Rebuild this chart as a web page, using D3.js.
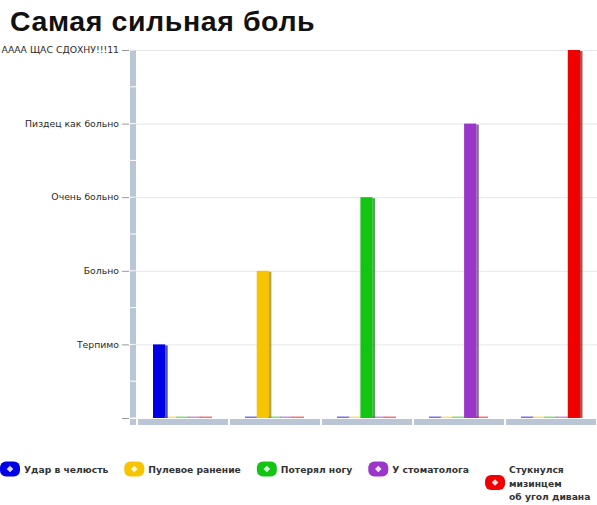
<!DOCTYPE html>
<html>
<head>
<meta charset="utf-8">
<script src="https://cdn.jsdelivr.net/npm/d3@7"></script>
<style>
  body { margin: 0; background: #fff; }
  text { font-family: "DejaVu Sans", Verdana, sans-serif; }
</style>
</head>
<body>
<script>
// pain levels on the y axis, bottom to top
let levels = ["", "Терпимо", "Больно", "Очень больно", "Пиздец как больно", "АААА ЩАС СДОХНУ!!!11"];
let groups = ["1", "2", "3", "4", "5"];
let series = ["Удар в челюсть", "Пулевое ранение", "Потерял ногу", "У стоматолога", "Стукнулся мизинцем об угол дивана"];
let seriesLines = [["Удар в челюсть"], ["Пулевое ранение"], ["Потерял ногу"], ["У стоматолога"], ["Стукнулся", "мизинцем", "об угол дивана"]];
let colors = ["#0000e4", "#f6c500", "#13c513", "#9a36c9", "#f00000"];
// values[group][series]
let values = [
  [1, 0, 0, 0, 0],
  [0, 2, 0, 0, 0],
  [0, 0, 3, 0, 0],
  [0, 0, 0, 4, 0],
  [0, 0, 0, 0, 5]
];

let width = 597, height = 505;
let margin = {top: 50, right: 0, bottom: 87, left: 137};

let svg = d3.select("body").append("svg")
  .attr("width", width)
  .attr("height", height);

svg.append("text")
  .attr("x", 10).attr("y", 31)
  .style("font-family", "'Liberation Sans', Arial, sans-serif")
  .style("font-weight", "bold")
  .style("font-size", "28.5px")
  .style("letter-spacing", "0.6px")
  .attr("fill", "#111")
  .text("Самая сильная боль");

let x = d3.scaleBand().domain(groups).range([margin.left, width - margin.right]);
let xs = d3.scaleBand().domain(series).range([16, 16 + 58.5]);
let y = d3.scaleLinear().domain([0, levels.length - 1]).range([height - margin.bottom, margin.top]);

// gridlines
svg.append("g").selectAll("line")
  .data(d3.range(1, levels.length))
  .join("line")
  .attr("x1", margin.left - 4).attr("x2", width)
  .attr("y1", d => y(d) + 0.5).attr("y2", d => y(d) + 0.5)
  .attr("stroke", "#e4e6ea");

// vertical axis bar, split at half steps
let axisX = 130;
svg.append("g").selectAll("rect")
  .data(d3.range(0, levels.length - 1, 0.5))
  .join("rect")
  .attr("x", axisX).attr("width", 6)
  .attr("y", d => y(d + 0.5) + 0.5)
  .attr("height", d => y(d) - y(d + 0.5) - 1)
  .attr("fill", "#bac6d6");
svg.append("rect")
  .attr("x", axisX).attr("width", 6)
  .attr("y", y(0) + 1).attr("height", 6)
  .attr("fill", "#bac6d6");

// ticks and labels
let ticks = svg.append("g");
ticks.selectAll("line")
  .data(d3.range(levels.length))
  .join("line")
  .attr("x1", 122).attr("x2", 129)
  .attr("y1", d => y(d) + 0.5).attr("y2", d => y(d) + 0.5)
  .attr("stroke", "#999");
ticks.selectAll("text")
  .data(levels)
  .join("text")
  .attr("x", 119)
  .attr("y", (d, i) => y(i))
  .attr("dy", "0.35em")
  .attr("text-anchor", "end")
  .style("font-size", "9.3px")
  .attr("fill", "#2a2a2a")
  .text(d => d);

// base segments under each group
svg.append("g").selectAll("rect")
  .data(groups)
  .join("rect")
  .attr("x", d => x(d) + 1)
  .attr("width", x.bandwidth() - 2)
  .attr("y", y(0) + 1)
  .attr("height", 6)
  .attr("fill", "#bac6d6");

// bars
let g = svg.append("g").selectAll("g")
  .data(values)
  .join("g")
  .attr("transform", (d, i) => "translate(" + x(groups[i]) + ",0)");

g.selectAll("rect.bar")
  .data(d => d.map((v, j) => ({v: v, s: series[j], c: colors[j]})))
  .join("rect")
  .attr("class", "bar")
  .attr("x", d => xs(d.s))
  .attr("width", xs.bandwidth() + 0.5)
  .attr("y", d => d.v > 0 ? y(d.v) : y(0) - 1.5)
  .attr("height", d => d.v > 0 ? y(0) - y(d.v) : 1.5)
  .attr("fill", d => d.c)
  .attr("opacity", d => d.v > 0 ? 1 : 0.55);

g.selectAll("rect.shade")
  .data(d => d.map((v, j) => ({v: v, s: series[j], c: colors[j]})).filter(d => d.v > 0))
  .join("rect")
  .attr("class", "shade")
  .attr("x", d => xs(d.s) + xs.bandwidth() + 0.5)
  .attr("width", 2.5)
  .attr("y", d => y(d.v) + 1)
  .attr("height", d => y(0) - y(d.v) - 1)
  .attr("fill", d => d3.color(d.c).darker(1.2))
  .attr("opacity", 0.7);

// legend
let legend = svg.append("g");
let lx = 0;
seriesLines.forEach(function(lines, i) {
  let item = legend.append("g");
  let lineH = 13.5;
  let cy = 469 + (lines.length - 1) * lineH / 2;
  item.append("rect")
    .attr("x", lx).attr("y", cy - 7.5)
    .attr("width", 20).attr("height", 15)
    .attr("rx", 6)
    .attr("fill", colors[i]);
  item.append("path")
    .attr("d", d3.symbol(d3.symbolSquare, 22)())
    .attr("transform", "translate(" + (lx + 10) + "," + cy + ") rotate(45)")
    .attr("fill", "#fff")
    .attr("opacity", 0.85);
  let t = item.append("text")
    .attr("x", lx + 24)
    .attr("y", 473)
    .style("font-size", "9.2px")
    .style("font-weight", "bold")
    .attr("fill", "#333");
  lines.forEach(function(l, k) {
    t.append("tspan").attr("x", lx + 24).attr("y", 473 + k * lineH).text(l);
  });
  let w = d3.max(t.selectAll("tspan").nodes(), n => n.getComputedTextLength());
  lx = lx + 24 + w + 16;
});
</script>
</body>
</html>
